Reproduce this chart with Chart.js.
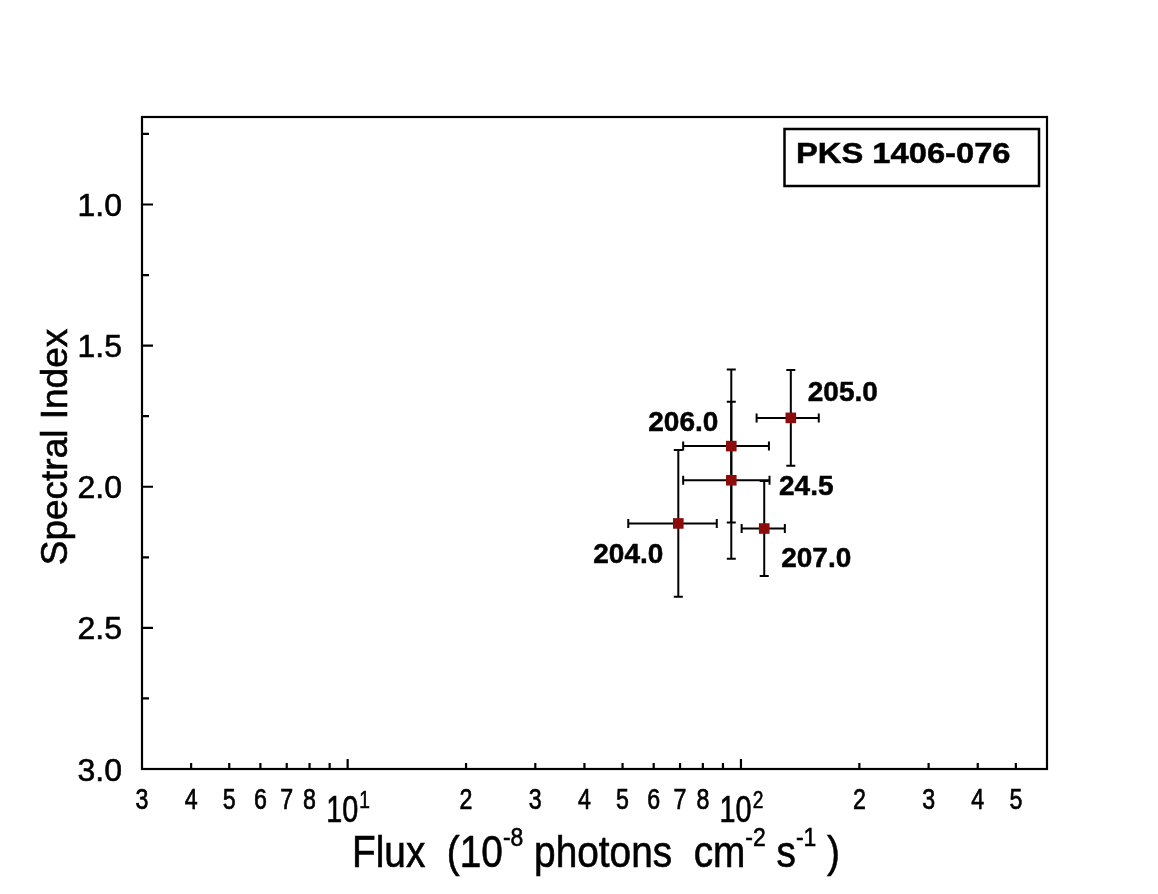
<!DOCTYPE html>
<html>
<head>
<meta charset="utf-8">
<script src="https://cdn.jsdelivr.net/npm/chart.js@4.4.1/dist/chart.umd.min.js"></script>
<style>
  html, body { margin: 0; padding: 0; background: #fff; }
  #wrap { width: 1158px; height: 894px; }
</style>
</head>
<body>
<div id="wrap"><canvas id="fluxIndex" width="1158" height="894"></canvas></div>
<script>
// values
const sources = ['204.0', '205.0', '206.0', '207.0', '24.5'];
const flux = [69.3, 133.9, 94.5, 114.6, 94.5];
const fluxLow = [51.7, 109.6, 71.3, 100.4, 71.3];
const fluxHigh = [86.8, 157.7, 117.8, 129.3, 118.2];
const index = [2.13, 1.756, 1.856, 2.148, 1.977];
const indexErr = [0.26, 0.17, 0.271, 0.168, 0.278];

const xTickValues = [3, 4, 5, 6, 7, 8, 10, 20, 30, 40, 50, 60, 70, 80, 100, 200, 300, 400, 500];
const xTickLabels = ['3', '4', '5', '6', '7', '8', '10^1', '2', '3', '4', '5', '6', '7', '8', '10^2', '2', '3', '4', '5'];
const yTickValues = [1.0, 1.5, 2.0, 2.5, 3.0];
const yTickLabels = ['1.0', '1.5', '2.0', '2.5', '3.0'];
const sourceName = 'PKS 1406-076';

const FONT = '"Liberation Sans", Arial, Helvetica, sans-serif';

// where each point label sits, relative to its marker (px)
const labelShift = {
    '204.0': [-50, 29],
    '205.0': [52, -27],
    '206.0': [-48, -26],
    '207.0': [52, 28],
    '24.5': [75, 4]
};

// text with a horizontal squeeze and a thin outline to thicken it a bit
function drawText(ctx, str, x, y, font, sx, align, thick) {
    ctx.save();
    ctx.font = font;
    ctx.textAlign = 'left';
    ctx.textBaseline = 'alphabetic';
    let w = ctx.measureText(str).width * sx;
    let x0 = x;
    if (align === 'center') x0 = x - w / 2;
    if (align === 'right') x0 = x - w;
    ctx.translate(x0, y);
    ctx.scale(sx, 1);
    ctx.fillText(str, 0, 0);
    if (thick) {
        ctx.lineWidth = thick;
        ctx.strokeText(str, 0, 0);
    }
    ctx.restore();
    return w;
}

// pieces: [text, isSuperscript]
function drawRich(ctx, pieces, x, y, size, supSize, rise, width) {
    ctx.save();
    let total = 0;
    pieces.forEach(p => {
        ctx.font = (p[1] ? supSize : size) + 'px ' + FONT;
        total += ctx.measureText(p[0]).width;
    });
    let sx = width / total;
    ctx.translate(x, y);
    ctx.scale(sx, 1);
    ctx.lineWidth = 0.6;
    let cx = 0;
    pieces.forEach(p => {
        ctx.font = (p[1] ? supSize : size) + 'px ' + FONT;
        ctx.fillText(p[0], cx, p[1] ? -rise : 0);
        ctx.strokeText(p[0], cx, p[1] ? -rise : 0);
        cx += ctx.measureText(p[0]).width;
    });
    ctx.restore();
}

const errorBars = {
    id: 'errorBars',
    beforeDatasetsDraw(chart) {
        const ctx = chart.ctx;
        const xs = chart.scales.x, ys = chart.scales.y;
        const cap = 4.5;
        ctx.save();
        ctx.strokeStyle = '#000';
        ctx.lineWidth = 2;
        for (let i = 0; i < flux.length; i++) {
            let px = xs.getPixelForValue(flux[i]);
            let py = ys.getPixelForValue(index[i]);
            let xl = xs.getPixelForValue(fluxLow[i]);
            let xh = xs.getPixelForValue(fluxHigh[i]);
            let yl = ys.getPixelForValue(index[i] - indexErr[i]);
            let yh = ys.getPixelForValue(index[i] + indexErr[i]);
            ctx.beginPath();
            ctx.moveTo(xl, py); ctx.lineTo(xh, py);
            ctx.moveTo(xl, py - cap); ctx.lineTo(xl, py + cap);
            ctx.moveTo(xh, py - cap); ctx.lineTo(xh, py + cap);
            ctx.moveTo(px, yl); ctx.lineTo(px, yh);
            ctx.moveTo(px - cap, yl); ctx.lineTo(px + cap, yl);
            ctx.moveTo(px - cap, yh); ctx.lineTo(px + cap, yh);
            ctx.stroke();
        }
        ctx.restore();
    }
};

const frameAndText = {
    id: 'frameAndText',
    afterDraw(chart) {
        const ctx = chart.ctx;
        const a = chart.chartArea;
        const xs = chart.scales.x, ys = chart.scales.y;
        ctx.save();
        ctx.strokeStyle = '#000';
        ctx.fillStyle = '#000';

        // frame
        ctx.lineWidth = 2.2;
        ctx.strokeRect(a.left, a.top, a.right - a.left, a.bottom - a.top);

        // x ticks, inside the frame
        ctx.beginPath();
        for (let dec = 1; dec <= 100; dec *= 10) {
            for (let m = 1; m <= 9; m++) {
                let v = m * dec;
                if (v <= xs.min || v >= xs.max) continue;
                let px = xs.getPixelForValue(v);
                let len = m === 1 ? 10 : 6;
                ctx.moveTo(px, a.bottom);
                ctx.lineTo(px, a.bottom - len);
            }
        }
        // y ticks
        for (let v = 0.75; v <= 3.0001; v += 0.25) {
            let py = ys.getPixelForValue(v);
            let major = Math.abs(v * 2 - Math.round(v * 2)) < 1e-6;
            ctx.moveTo(a.left, py);
            ctx.lineTo(a.left + (major ? 11 : 7), py);
        }
        ctx.stroke();

        // x tick labels
        xTickValues.forEach((v, i) => {
            let px = xs.getPixelForValue(v);
            let lab = xTickLabels[i];
            if (lab.indexOf('^') > 0) {
                let parts = lab.split('^');
                ctx.font = '36px ' + FONT;
                let w1 = ctx.measureText(parts[0]).width * 0.8;
                ctx.font = '24px ' + FONT;
                let w2 = ctx.measureText(parts[1]).width * 0.8;
                let x0 = px - (w1 + w2) / 2;
                drawText(ctx, parts[0], x0, a.bottom + 53, '36px ' + FONT, 0.8, 'left', 0.6);
                drawText(ctx, parts[1], x0 + w1 + 1, a.bottom + 39, '24px ' + FONT, 0.8, 'left', 0.6);
            } else {
                drawText(ctx, lab, px, a.bottom + 40, '29px ' + FONT, 0.8, 'center', 0.7);
            }
        });

        // y tick labels
        yTickValues.forEach((v, i) => {
            let py = ys.getPixelForValue(v);
            drawText(ctx, yTickLabels[i], a.left - 20, py + 11.5, '32px ' + FONT, 1, 'right', 0.6);
        });

        // axis titles
        drawRich(ctx, [
            ['Flux  (10', false], ['-8', true], [' photons  cm', false],
            ['-2', true], [' s', false], ['-1', true], [' )', false]
        ], 352, 866.7, 44, 26, 21, 488);

        ctx.save();
        ctx.translate(67, 447);
        ctx.rotate(-Math.PI / 2);
        ctx.font = '37px ' + FONT;
        ctx.textAlign = 'center';
        ctx.lineWidth = 0.6;
        ctx.fillText('Spectral Index', 0, 0);
        ctx.strokeText('Spectral Index', 0, 0);
        ctx.restore();

        // point labels
        for (let i = 0; i < sources.length; i++) {
            let px = xs.getPixelForValue(flux[i]);
            let py = ys.getPixelForValue(index[i]);
            let s = labelShift[sources[i]];
            drawText(ctx, sources[i], px + s[0], py + s[1] + 10.5, 'bold 28px ' + FONT, 1, 'center', 0.5);
        }

        // source box
        ctx.lineWidth = 2.5;
        ctx.strokeRect(784.5, 129, 254.5, 57);
        drawText(ctx, sourceName, 796, 163, 'bold 30px ' + FONT, 1.09, 'left', 0.5);

        ctx.restore();
    }
};

const ctx = document.getElementById('fluxIndex').getContext('2d');
const fluxChart = new Chart(ctx, {
    type: 'scatter',
    data: {
        datasets: [{
            label: sourceName,
            data: flux.map((f, i) => ({ x: f, y: index[i] })),
            backgroundColor: '#8c0b0b',
            borderColor: '#8c0b0b',
            pointStyle: 'rect',
            pointRadius: 7.5,
            pointHoverRadius: 7.5,
            borderWidth: 0
        }]
    },
    options: {
        responsive: false,
        animation: false,
        devicePixelRatio: 1,
        layout: {
            padding: { left: 142, top: 117, right: 111, bottom: 125 }
        },
        plugins: {
            legend: { display: false },
            tooltip: { enabled: false }
        },
        scales: {
            x: {
                type: 'logarithmic',
                min: 3,
                max: 600,
                grid: { display: false },
                border: { display: false },
                ticks: { display: false },
                afterFit(s) { s.height = 0; }
            },
            y: {
                type: 'linear',
                reverse: true,
                min: 0.69,
                max: 3.0,
                grid: { display: false },
                border: { display: false },
                ticks: { display: false },
                afterFit(s) { s.width = 0; }
            }
        }
    },
    plugins: [errorBars, frameAndText]
});
</script>
</body>
</html>
